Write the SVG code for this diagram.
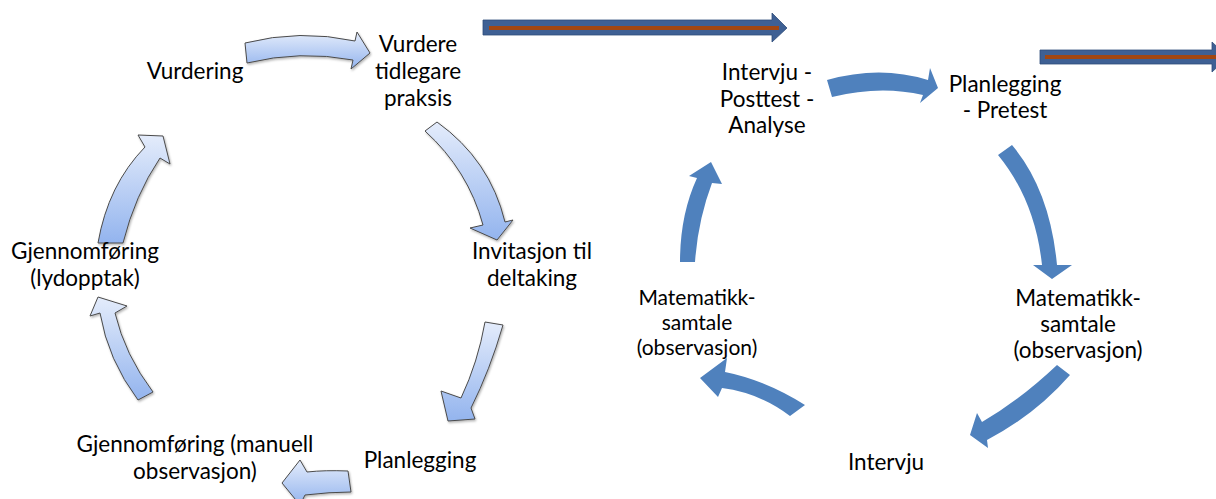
<svg xmlns="http://www.w3.org/2000/svg" width="1216" height="499" viewBox="0 0 1216 499">
  <defs>
    <linearGradient id="lightFill" x1="0" y1="0" x2="0" y2="1">
      <stop offset="0" stop-color="#e4ecfb"/>
      <stop offset="1" stop-color="#93b4ee"/>
    </linearGradient>
    <filter id="soft" x="-20%" y="-20%" width="140%" height="140%">
      <feDropShadow dx="1" dy="1.5" stdDeviation="1" flood-color="#000" flood-opacity="0.3"/>
    </filter>
    <style>
      text { font-family: Lato, "Liberation Sans", sans-serif; font-size: 22.5px; fill: #000; text-anchor: middle; }
      text.small { font-size: 21px; }
      .light { fill: url(#lightFill); stroke: #4a4a4a; stroke-width: 1; stroke-linejoin: round; filter: url(#soft); }
      .solid { fill: #4f81bd; stroke: none; }
      .band { fill: #3e6094; stroke: #2f4d7a; stroke-width: 0.8; }
      .stripe { stroke: #a24712; stroke-width: 4; }
    </style>
  </defs>

  <!-- connectors -->
  <g id="connectors">
    <!-- left cycle -->
    <path class="light" d="M245,43 Q300,29 355,41 L357,32 L370,53 L351,69 L353,60 Q300,50 247,63 Z"/>
    <path class="light" d="M425,131 Q468,170 483,225 L470,228 L497,240 L513,220 L505,222 Q490,160 437,122 Z"/>
    <path class="light" d="M485,322 Q478,362 461,398 L441,391 L448,421 L475,419 L471,408 Q490,370 503,325 Z"/>
    <path class="light" d="M348,471 Q325,470 307,472 L300,460 L282,483 L300,505 L305,495 Q330,492 351,492 Z"/>
    <path class="light" d="M138,400 Q108,360 100,313 L90,316 L98,297 L127,306 L115,313 Q125,355 153,392 Z"/>
    <path class="light" d="M98,243 Q108,185 145,147 L138,135 L163,136 L170,164 L160,158 Q135,195 123,243 Z"/>

    <!-- right cycle -->
    <path class="solid" d="M827,80 Q880,65 928,80 L930,68 L938,88 L920,103 L923,95 Q880,85 832,97 Z"/>
    <path class="solid" d="M998,155 Q1035,200 1042,265 L1033,265 L1052,279 L1072,265 L1057,265 Q1050,190 1012,145 Z"/>
    <path class="solid" d="M1057,365 Q1020,400 982,422 L977,413 L970,435 L988,448 L987,440 Q1035,415 1070,375 Z"/>
    <path class="solid" d="M805,405 Q765,380 725,372 L727,358 L700,378 L718,397 L722,388 Q760,393 790,416 Z"/>
    <path class="solid" d="M680,262 Q680,215 697,178 L689,176 L711,162 L722,184 L712,183 Q698,220 695,262 Z"/>

    <!-- horizontal progress arrows -->
    <path class="band" d="M483,20 L772,20 L772,13 L787,28 L772,42 L772,35 L483,35 Z"/>
    <line class="stripe" x1="489" y1="28" x2="779" y2="28"/>
    <path class="band" d="M1040,50 L1212,50 L1212,42 L1228,57 L1212,72 L1212,64 L1040,64 Z"/>
    <line class="stripe" x1="1045" y1="57" x2="1216" y2="57"/>
  </g>

  <!-- left cycle nodes -->
  <g id="vurdering"><text x="195" y="79">Vurdering</text></g>
  <g id="vurdere-praksis">
    <text x="418" y="52">Vurdere</text>
    <text x="418" y="79">tidlegare</text>
    <text x="418" y="106">praksis</text>
  </g>
  <g id="invitasjon">
    <text x="532" y="259">Invitasjon til</text>
    <text x="532" y="286">deltaking</text>
  </g>
  <g id="planlegging-left"><text x="420" y="468">Planlegging</text></g>
  <g id="gjennomforing-manuell">
    <text x="195" y="452">Gjennomføring (manuell</text>
    <text x="195" y="479">observasjon)</text>
  </g>
  <g id="gjennomforing-lyd">
    <text x="85" y="259">Gjennomføring</text>
    <text x="85" y="286">(lydopptak)</text>
  </g>

  <!-- right cycle nodes -->
  <g id="intervju-posttest">
    <text x="767" y="80">Intervju -</text>
    <text x="767" y="107">Posttest -</text>
    <text x="767" y="133">Analyse</text>
  </g>
  <g id="planlegging-pretest">
    <text x="1005" y="92">Planlegging</text>
    <text x="1005" y="118">- Pretest</text>
  </g>
  <g id="matematikk-right">
    <text x="1078" y="306">Matematikk-</text>
    <text x="1078" y="332">samtale</text>
    <text x="1078" y="358">(observasjon)</text>
  </g>
  <g id="intervju"><text x="886" y="470">Intervju</text></g>
  <g id="matematikk-left">
    <text class="small" x="697" y="305">Matematikk-</text>
    <text class="small" x="697" y="330">samtale</text>
    <text class="small" x="697" y="355">(observasjon)</text>
  </g>
</svg>
